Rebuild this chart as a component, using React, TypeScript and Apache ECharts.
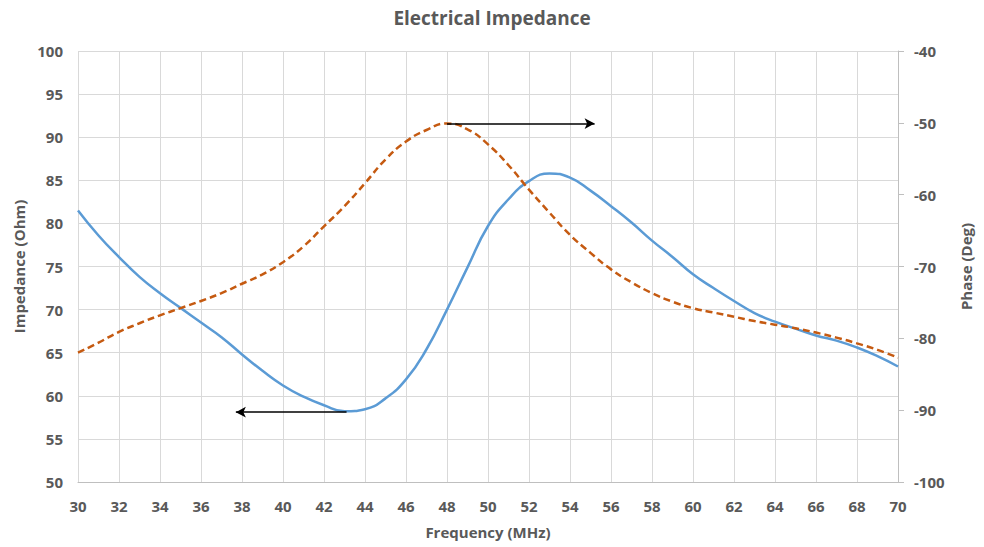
import React, { useEffect, useRef } from "react";
import * as echarts from "echarts";

const frequencies = [30,31,32,33,34,35,36,37,38,39,40,41,42,43,44,45,46,47,48,49,50,51,52,53,54,55,56,57,58,59,60,61,62,63,64,65,66,67,68,69,70];
const impedance = [81.5,78.6,76.1,73.8,71.9,70.2,68.5,66.8,64.8,62.9,61.2,59.9,58.9,58.2,58.45,59.7,61.9,65.4,70.0,74.9,79.7,82.8,84.9,85.8,85.3,83.8,82.0,80.1,78.0,76.1,74.1,72.5,71.0,69.6,68.6,67.8,67.0,66.4,65.6,64.6,63.4];
const phase = [-82.0,-80.6,-79.1,-77.9,-76.8,-75.8,-74.8,-73.7,-72.4,-71.1,-69.4,-67.2,-64.4,-61.6,-58.4,-55.1,-52.6,-51.0,-50.1,-50.9,-53.0,-55.9,-59.3,-62.5,-65.6,-68.1,-70.4,-72.2,-73.7,-74.9,-75.8,-76.4,-77.0,-77.6,-78.1,-78.6,-79.2,-79.9,-80.7,-81.6,-82.7];

// annotation arrows (data coordinates)
const phaseArrow = { from: [48, -50.1], to: [55.2, -50.1] };
const impedanceArrow = { from: [43.1, 58.1], to: [37.7, 58.1] };

const TEXT = "#595959";
const FONT = "'Open Sans', 'Liberation Sans', sans-serif";

export default function App() {
  const ref = useRef<HTMLDivElement>(null);
  useEffect(() => {
    if (!ref.current) return;
    const chart = echarts.init(ref.current, null, { renderer: "svg" });
    const arrowLine = (a: { from: number[]; to: number[] }) => ({
      silent: true,
      symbol: ["none", "arrow"],
      symbolSize: [8, 10],
      label: { show: false },
      lineStyle: { color: "#000", type: "solid", width: 1.5 },
      emphasis: { disabled: true },
      data: [[{ coord: a.from }, { coord: a.to }]],
    });
    const nameStyle = { color: TEXT, fontSize: 15, fontWeight: "bold", fontFamily: FONT };
    const labelStyle = { color: TEXT, fontSize: 15, fontWeight: "bold", fontFamily: FONT };
    chart.setOption({
      animation: false,
      backgroundColor: "#fff",
      textStyle: { fontFamily: FONT },
      title: {
        text: "Electrical Impedance",
        left: "center",
        top: 3,
        textStyle: { color: TEXT, fontSize: 19, fontWeight: "bold", fontFamily: FONT },
      },
      grid: { left: 78, right: 86, top: 51, bottom: 65, containLabel: false, outerBoundsMode: "none" },
      xAxis: {
        type: "value",
        min: 30,
        max: 70,
        interval: 2,
        name: "Frequency (MHz)",
        nameLocation: "middle",
        nameGap: 42,
        nameTextStyle: nameStyle,
        axisLine: { show: true, lineStyle: { color: "#bfbfbf", width: 1 } },
        axisTick: { show: false },
        axisLabel: { ...labelStyle, margin: 16 },
        splitLine: { show: true, lineStyle: { color: "#d9d9d9", width: 1 } },
      },
      yAxis: [
        {
          type: "value",
          min: 50,
          max: 100,
          interval: 5,
          name: "Impedance (Ohm)",
          nameLocation: "middle",
          nameRotate: 90,
          nameGap: 48,
          nameTextStyle: nameStyle,
          axisLine: { show: false },
          axisTick: { show: false },
          axisLabel: { ...labelStyle, margin: 15 },
          splitLine: { show: true, lineStyle: { color: "#d9d9d9", width: 1 } },
        },
        {
          type: "value",
          min: -100,
          max: -40,
          interval: 10,
          position: "right",
          name: "Phase (Deg)",
          nameLocation: "middle",
          nameRotate: 90,
          nameGap: 60,
          nameTextStyle: nameStyle,
          axisLine: { show: true, lineStyle: { color: "#bfbfbf", width: 1 } },
          axisTick: { show: true, length: 6, lineStyle: { color: "#bfbfbf" } },
          axisLabel: { ...labelStyle, margin: 16 },
          splitLine: { show: false },
        },
      ],
      series: [
        {
          name: "Impedance",
          type: "line",
          yAxisIndex: 0,
          smooth: 0.5,
          showSymbol: false,
          lineStyle: { color: "#5B9BD5", width: 2.5 },
          data: frequencies.map((f, i) => [f, impedance[i]]),
          markLine: arrowLine(impedanceArrow),
        },
        {
          name: "Phase",
          type: "line",
          yAxisIndex: 1,
          smooth: 0.5,
          showSymbol: false,
          lineStyle: { color: "#C55A11", width: 2.5, type: [7, 4] },
          data: frequencies.map((f, i) => [f, phase[i]]),
          markLine: arrowLine(phaseArrow),
        },
      ],
    });
    return () => chart.dispose();
  }, []);
  return <div ref={ref} style={{ width: 984, height: 547, position: "absolute", left: 0, top: 0 }} />;
}
